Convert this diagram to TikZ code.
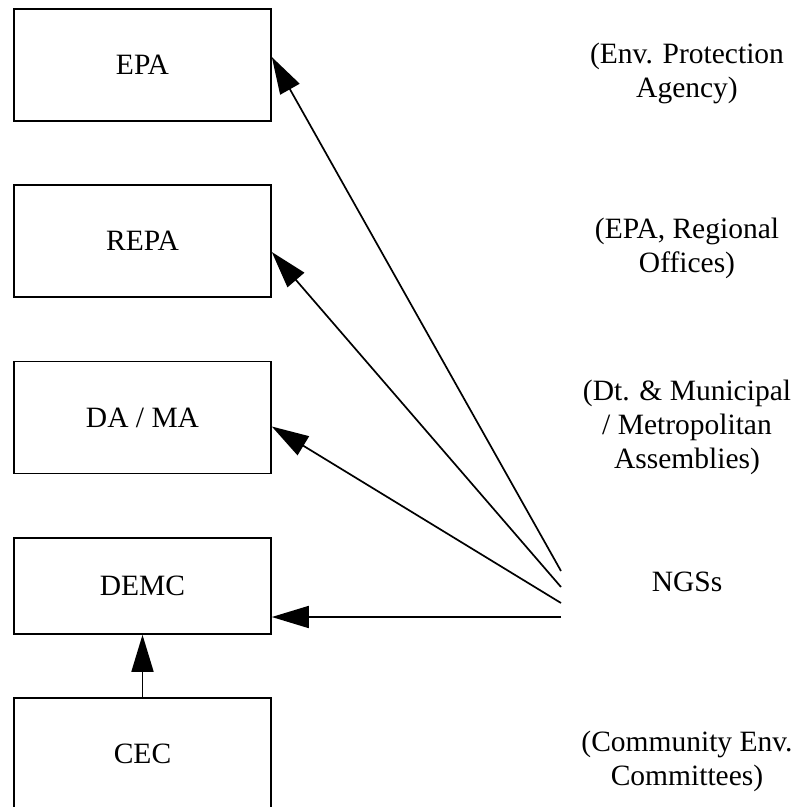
\documentclass[tikz,border=0pt]{standalone}
\usepackage{fontspec}
\setmainfont{Liberation Serif}
\usetikzlibrary{arrows.meta}

\begin{document}
\begin{tikzpicture}[x=1pt, y=-1pt, every node/.style={font=\fontsize{29.5}{34}\selectfont}]
    \tikzstyle{box_style}=[draw, line width=1.6pt, minimum width=257pt, minimum height=112pt, inner sep=0pt]
    \tikzstyle{note_style}=[align=center, inner sep=0pt]
    \tikzstyle{link_edge}=[line width=1.7pt, -{Triangle[length=37pt, width=22pt]}]

    \useasboundingbox (0,0) rectangle (793,807);

    % --- Boxes ---
    \node[box_style] (epa) at (142.5,65) {EPA};
    \node[box_style] (repa) at (142.5,241) {REPA};
    \node[box_style] (dama) at (142.5,417.5) {DA / MA};
    \node[box_style, minimum height=96pt] (demc) at (142.5,586) {DEMC};
    \node[box_style] (cec) at (142.5,754) {CEC};

    % --- Notes ---
    \node[note_style] (epa_note) at (687,73) {(Env. Protection\\Agency)};
    \node[note_style] (repa_note) at (687,248) {(EPA, Regional\\Offices)};
    \node[note_style] (dama_note) at (687,427) {(Dt. \& Municipal\\/ Metropolitan\\Assemblies)};
    \node[note_style] (ngs) at (687,582) {NGSs};
    \node[note_style] (cec_note) at (687,761) {(Community Env.\\Committees)};

    % --- Links ---
    \coordinate (src_a) at (561,571);
    \coordinate (src_b) at (561,587);
    \coordinate (src_c) at (561,603);
    \coordinate (src_d) at (561,617);
    \draw[link_edge] (src_a) -- ([yshift=8pt]epa.east);
    \draw[link_edge] (src_b) -- ([yshift=-11pt]repa.east);
    \draw[link_edge] (src_c) -- ([yshift=-9pt]dama.east);
    \draw[link_edge] (src_d) -- ([yshift=-31pt]demc.east);
    \draw[link_edge] (cec.north) -- (demc.south);
\end{tikzpicture}
\end{document}
